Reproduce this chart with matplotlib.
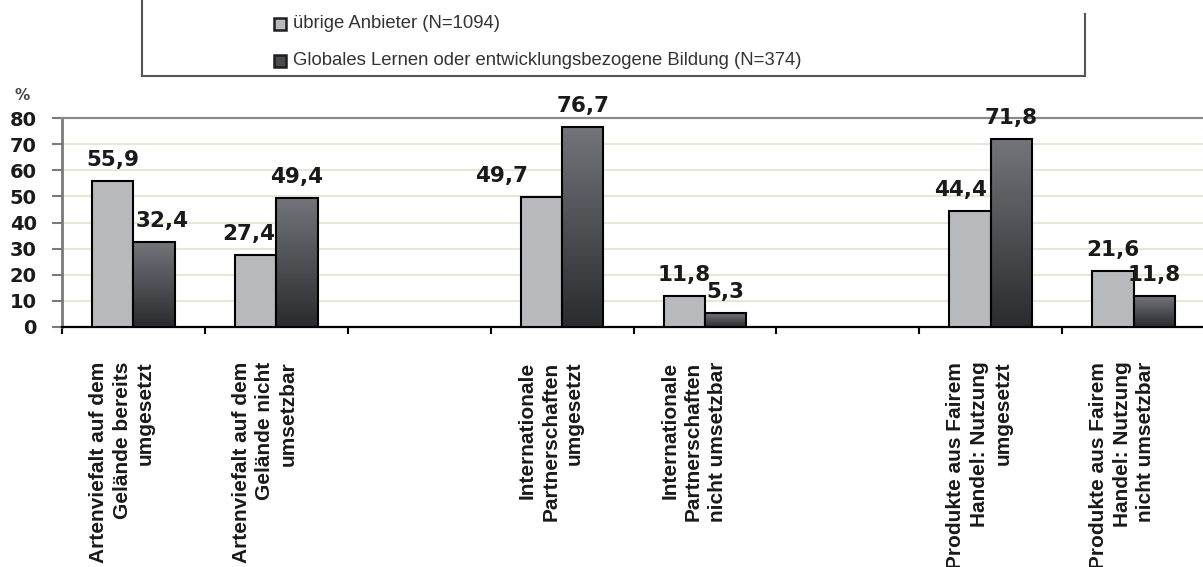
import numpy as np
import matplotlib
matplotlib.use("Agg")
import matplotlib.pyplot as plt
from matplotlib.patches import Rectangle
from matplotlib.lines import Line2D
from matplotlib.colors import LinearSegmentedColormap

# --- data -----------------------------------------------------------------
categories = [
    "Artenviefalt auf dem\nGelände bereits\numgesetzt",
    "Artenviefalt auf dem\nGelände nicht\numsetzbar",
    "",
    "Internationale\nPartnerschaften\numgesetzt",
    "Internationale\nPartnerschaften\nnicht umsetzbar",
    "",
    "Produkte aus Fairem\nHandel: Nutzung\numgesetzt",
    "Produkte aus Fairem\nHandel: Nutzung\nnicht umsetzbar",
]
uebrige = [55.9, 27.4, None, 49.7, 11.8, None, 44.4, 21.6]
globales = [32.4, 49.4, None, 76.7, 5.3, None, 71.8, 11.8]
series_names = ["übrige Anbieter (N=1094)",
                "Globales Lernen oder entwicklungsbezogene Bildung (N=374)"]
y_ticks = [0, 10, 20, 30, 40, 50, 60, 70, 80]

# hand-placed value labels: horizontal nudge in pixels per (series, slot)
label_nudge_px = {(0, 0): 0, (1, 0): 8, (0, 1): -7, (0, 3): -40, (0, 6): -9}

LIGHT = "#b8b9bd"
DARK_TOP = "#74757a"
DARK_BOTTOM = "#2a2b2f"
TEXT = "#1a1a1a"

W, H = 1203, 567
fig = plt.figure(figsize=(W / 100, H / 100), dpi=100)
fig.patch.set_facecolor("white")


def fx(px):
    return px / W


def fy(py):
    return 1 - py / H


ax = fig.add_axes([fx(62), fy(327), fx(1205) - fx(62), fy(118) - fy(327)])

bw = 0.29
x = np.arange(len(categories))
grad_cmap = LinearSegmentedColormap.from_list("dk", [DARK_BOTTOM, DARK_TOP])
grad = np.linspace(0, 1, 256).reshape(-1, 1)
val_kw = dict(textcoords="offset points", ha="center", va="baseline",
              fontsize=15.5, fontweight="bold", family="DejaVu Sans",
              color=TEXT, zorder=5)


def value_label(series, i, xpos, v):
    dx = label_nudge_px.get((series, i), 0) * 0.72
    ax.annotate(f"{v:.1f}".replace(".", ","), (xpos, v),
                xytext=(dx, 10.8), **val_kw)


for i, (a, b) in enumerate(zip(uebrige, globales)):
    if a is not None:
        ax.bar(x[i] - bw / 2, a, width=bw, color=LIGHT, edgecolor="black",
               linewidth=1.5, zorder=3)
        value_label(0, i, x[i] - bw / 2, a)
    if b is not None:
        bars = ax.bar(x[i] + bw / 2, b, width=bw, color="none",
                      edgecolor="black", linewidth=1.5, zorder=4)
        im = ax.imshow(grad, cmap=grad_cmap, aspect="auto", origin="lower",
                       extent=[x[i], x[i] + bw, 0, b], zorder=3.5)
        im.set_clip_path(bars[0])
        value_label(1, i, x[i] + bw / 2, b)

ax.set_xlim(-0.5, len(categories) - 0.5)
ax.set_ylim(0, 80)

# grid
ax.set_yticks(y_ticks)
for t in y_ticks[1:-1]:
    ax.axhline(t, color="#e3e3cf", linewidth=1.2, zorder=1)

# spines
ax.spines["right"].set_visible(False)
ax.spines["top"].set_color("#8a8a8a")
ax.spines["top"].set_linewidth(1.6)
ax.spines["left"].set_color("#7a7a7a")
ax.spines["left"].set_linewidth(2)
ax.spines["bottom"].set_color("black")
ax.spines["bottom"].set_linewidth(1.6)

ax.tick_params(axis="y", direction="out", length=7.2, width=1.5,
               color="#7a7a7a", pad=11, labelsize=14)
for lab in ax.get_yticklabels():
    lab.set_fontweight("bold")
    lab.set_family("DejaVu Sans")
    lab.set_color(TEXT)

# category labels sit slightly left of the bar pair centre
ax.set_xticks(x - 0.08)
ax.set_xticklabels(categories, rotation=90, ha="center", va="top",
                   multialignment="right", fontsize=15, fontweight="bold",
                   family="Liberation Sans", color=TEXT, linespacing=1.3)
ax.set_xticks(np.arange(-0.5, len(categories), 1.0), minor=True)
ax.tick_params(axis="x", which="major", length=0, pad=25)
ax.tick_params(axis="x", which="minor", length=5, width=1.5,
               color="black", direction="out")

fig.text(fx(14), fy(96), "%", fontsize=11, fontweight="bold",
         family="DejaVu Sans", color="#444444", ha="left", va="center")

# legend frame (open on top)
frame_kw = dict(color="#555555", linewidth=1.5, transform=fig.transFigure)
fig.add_artist(Line2D([fx(142), fx(142)], [fy(0), fy(76)], **frame_kw))
fig.add_artist(Line2D([fx(142), fx(1085)], [fy(76), fy(76)], **frame_kw))
fig.add_artist(Line2D([fx(1085), fx(1085)], [fy(14), fy(76)], **frame_kw))

legend_rows = [(series_names[0], LIGHT, 24), (series_names[1], "#4a4b4f", 61)]
for label, col, yc in legend_rows:
    sq = 12
    fig.add_artist(Rectangle((fx(274), fy(yc + sq / 2)), fx(sq), sq / H,
                             facecolor=col, edgecolor="#1e1e1e",
                             linewidth=1.8, transform=fig.transFigure))
    fig.text(fx(293), fy(yc), label, fontsize=13.3, family="Liberation Sans",
             color="#333333", ha="left", va="center")

fig.savefig("out.png", dpi=100, facecolor="white")
